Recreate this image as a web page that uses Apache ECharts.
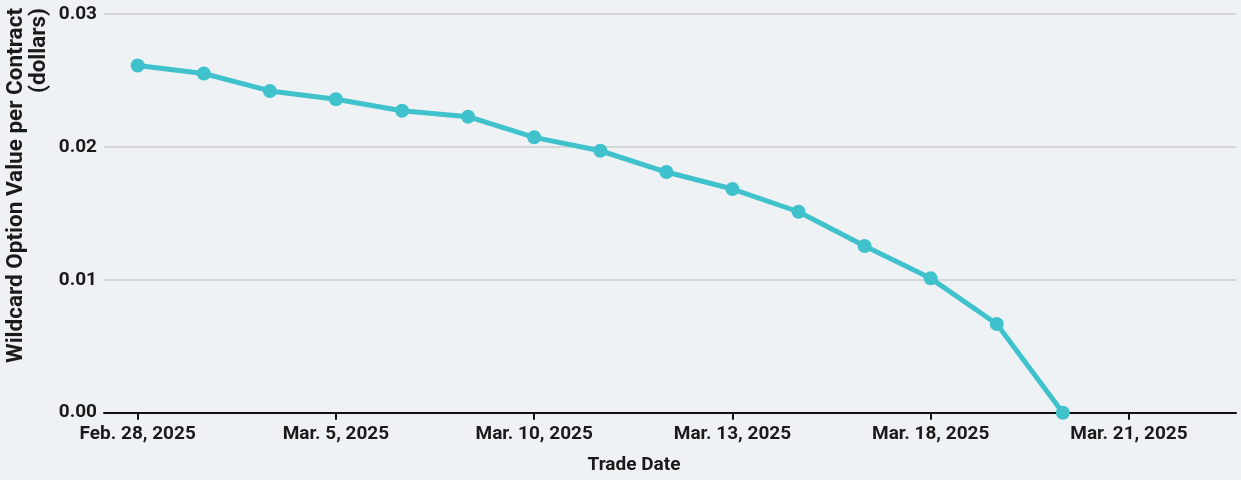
<!DOCTYPE html>
<html>
<head>
<meta charset="utf-8">
<script src="https://cdn.jsdelivr.net/npm/echarts@6/dist/echarts.min.js"></script>
<style>
html,body{margin:0;padding:0;background:#eef2f5;}
#c{width:1241px;height:480px;}
</style>
</head>
<body>
<div id="c"></div>
<script>
// Trading days (evenly spaced index)
const dates = ['Feb. 28, 2025','Mar. 3, 2025','Mar. 4, 2025','Mar. 5, 2025','Mar. 6, 2025','Mar. 7, 2025','Mar. 10, 2025','Mar. 11, 2025','Mar. 12, 2025','Mar. 13, 2025','Mar. 14, 2025','Mar. 17, 2025','Mar. 18, 2025','Mar. 19, 2025','Mar. 20, 2025','Mar. 21, 2025'];
const values = [0.02613,0.02552,0.02421,0.02358,0.02272,0.02227,0.02072,0.01971,0.01811,0.01683,0.01512,0.01254,0.01011,0.00667,0.0];
const tickIdx = [0,3,6,9,12,15];
const xTitle = 'Trade Date';
const yTitle1 = 'Wildcard Option Value per Contract';
const yTitle2 = '(dollars)';

const font = 'Roboto';
const chart = echarts.init(document.getElementById('c'));
chart.setOption({
  backgroundColor:'#eef2f5',
  animation:false,
  grid:{left:104,right:5,top:14,bottom:67.3,containLabel:false},
  xAxis:{
    type:'value', min:-0.51, max:16.62,
    axisLine:{show:true,onZero:false,lineStyle:{color:'#111',width:2}},
    axisTick:{show:true,customValues:tickIdx,length:7,inside:false,lineStyle:{color:'#111',width:2}},
    axisLabel:{customValues:tickIdx,formatter:v=>dates[Math.round(v)],margin:12,
      fontFamily:font,fontWeight:'bold',fontSize:19,color:'#1a1a1a'},
    splitLine:{show:false}
  },
  yAxis:{
    type:'value', min:0, max:0.03, interval:0.01,
    axisLine:{show:false}, axisTick:{show:false},
    axisLabel:{formatter:v=>v.toFixed(2),margin:7,fontFamily:font,fontWeight:'bold',fontSize:19,color:'#1a1a1a'},
    splitLine:{show:true,lineStyle:{color:'#cccccc',width:1.5}}
  },
  graphic:[
    {type:'text',x:634,y:465,
     style:{text:xTitle,fontFamily:font,fontWeight:'bold',fontSize:19,fill:'#1a1a1a',textAlign:'center',textVerticalAlign:'middle'}},
    {type:'text',rotation:Math.PI/2,x:5,y:8,
     style:{text:yTitle1,fontFamily:font,fontWeight:'bold',fontSize:22.5,fill:'#1a1a1a',textAlign:'right',textVerticalAlign:'top'}},
    {type:'text',rotation:Math.PI/2,x:28,y:8,
     style:{text:yTitle2,fontFamily:font,fontWeight:'bold',fontSize:22.5,fill:'#1a1a1a',textAlign:'right',textVerticalAlign:'top'}}
  ],
  series:[{
    type:'line',
    data:values.map((v,i)=>[i,v]),
    symbol:'circle',symbolSize:14,
    lineStyle:{color:'#40c2cc',width:5},
    itemStyle:{color:'#40c2cc'},
    clip:true,
    z:1
  }]
});
</script>
</body>
</html>
